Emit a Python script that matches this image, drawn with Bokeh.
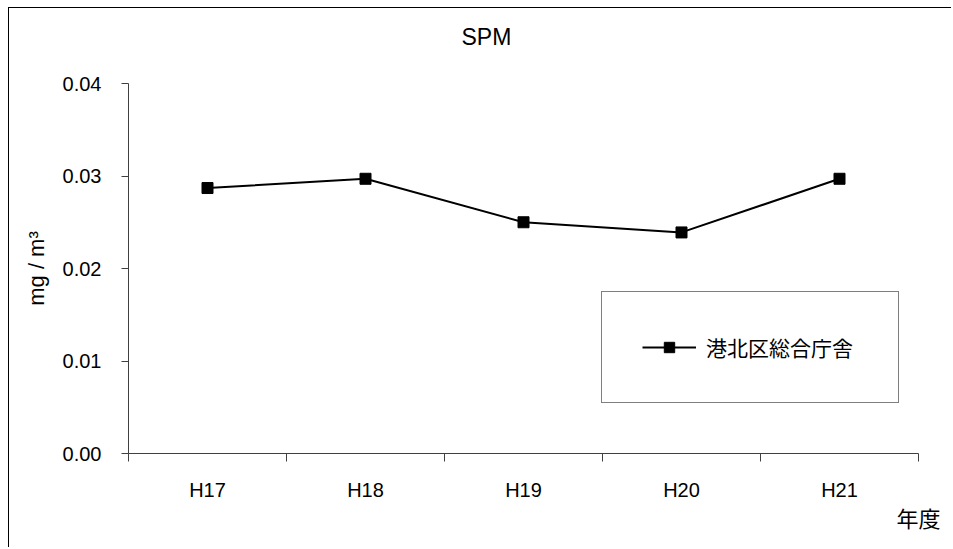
from bokeh.plotting import figure
from bokeh.models import FixedTicker, NumeralTickFormatter, Legend, Range1d, Title
from bokeh.embed import file_html
from bokeh.resources import INLINE

title_text = "SPM"
station = "港北区総合庁舎"
years = ["H17", "H18", "H19", "H20", "H21"]
spm = [0.0287, 0.0297, 0.0250, 0.0239, 0.0297]
y_ticks = [0.00, 0.01, 0.02, 0.03, 0.04]
y_label = "mg / m³"
x_label = "年度"

LAT = "Liberation Sans"
CJK = "Noto Sans CJK JP"

xs = [i + 0.5 for i in range(len(years))]
bounds = list(range(len(years) + 1))

p = figure(width=943, height=540, output_backend="svg", toolbar_location=None,
           x_range=Range1d(0, len(years)), y_range=Range1d(y_ticks[0], y_ticks[-1]),
           min_border_left=119, min_border_right=34, min_border_top=75, min_border_bottom=95)
p.margin = (7, 0, 0, 8)
p.styles = {"border-top": "1px solid black", "border-left": "1px solid black"}
p.outline_line_color = None
p.grid.visible = False
p.background_fill_color = "white"
p.border_fill_color = "white"

p.title.text = title_text
p.title.align = "left"
p.title.vertical_align = "bottom"
p.title.offset = 333
p.title.standoff = 10
p.title.text_font = LAT
p.title.text_font_size = "23px"
p.title.text_font_style = "normal"
p.title.text_color = "black"

# empty spacer between title and plot area
spacer = Title(text=" ", text_font_size="1px", standoff=26)
p.add_layout(spacer, "above")

ax = p.xaxis[0]
ax.ticker = FixedTicker(ticks=xs, minor_ticks=bounds)
ax.major_label_overrides = {x: lab for x, lab in zip(xs, years)}
ax.major_tick_out = 0
ax.major_tick_in = 0
ax.minor_tick_out = 8
ax.minor_tick_in = 0
ax.minor_tick_line_color = "#404040"
ax.axis_line_color = "#404040"
ax.major_label_standoff = 17
ax.major_label_text_font = LAT
ax.major_label_text_font_size = "20px"
ax.major_label_text_color = "black"

ay = p.yaxis[0]
ay.ticker = FixedTicker(ticks=y_ticks, minor_ticks=[])
ay.formatter = NumeralTickFormatter(format="0.00")
ay.major_tick_out = 7
ay.major_tick_in = 0
ay.major_tick_line_color = "#404040"
ay.axis_line_color = "#404040"
ay.major_label_standoff = 20
ay.major_label_text_font = LAT
ay.major_label_text_font_size = "20px"
ay.major_label_text_color = "black"
ay.axis_label = y_label
ay.axis_label_text_font = LAT
ay.axis_label_text_font_size = "22px"
ay.axis_label_text_font_style = "normal"
ay.axis_label_text_color = "black"
ay.axis_label_standoff = 11

line_r = p.line(xs, spm, line_color="black", line_width=2)
pts_r = p.scatter(xs, spm, marker="square", size=11, fill_color="black", line_color="black")

legend = Legend(items=[(station, [line_r, pts_r])], location=(473, 50),
                padding=40, margin=0, spacing=0, glyph_width=54, glyph_height=26,
                label_standoff=10, label_width=152, label_text_font=CJK, label_text_font_size="21px",
                label_text_color="black", border_line_color="black", border_line_width=1,
                background_fill_color="white", background_fill_alpha=1.0)
p.add_layout(legend)

xt = Title(text=x_label, align="right", offset=-22, standoff=-10, text_font=CJK,
           text_font_size="22px", text_font_style="normal", text_color="black")
p.add_layout(xt, "below")

open("out.html", "w").write(file_html(p, INLINE))
